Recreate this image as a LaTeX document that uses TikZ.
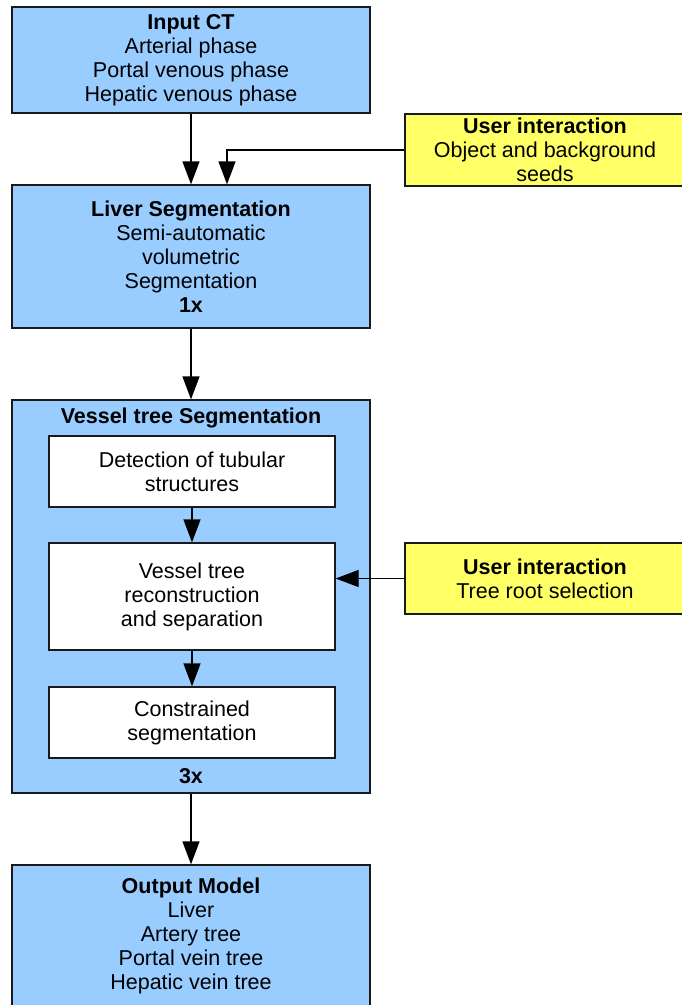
\documentclass[tikz,border=0pt]{standalone}
\usepackage{fontspec}
\setmainfont{Liberation Sans}
\usetikzlibrary{arrows.meta}
\definecolor{boxblue}{HTML}{99CCFF}
\definecolor{noteyellow}{HTML}{FFFF66}
\definecolor{edge}{HTML}{1A1A1A}

\begin{document}
\begin{tikzpicture}[x=1pt,y=-1pt,
  base/.style={draw=edge, line width=1.3pt, rectangle, inner sep=0pt,
               align=center, font=\fontsize{21.5}{24}\selectfont},
  blk/.style={base, fill=boxblue, minimum width=358pt},
  sub/.style={base, fill=white, minimum width=286pt},
  note/.style={base, fill=noteyellow, minimum width=280pt},
  label/.style={inner sep=0pt, align=center, font=\fontsize{21.5}{24}\selectfont\bfseries},
  flow/.style={draw=black, line width=1.3pt, -{Triangle[length=23pt,width=17pt]}}
]
\useasboundingbox (0,0) rectangle (681,1005);

% main processing chain
\node[blk, minimum height=106pt] (input) at (191,60)
  {\textbf{Input CT}\\Arterial phase\\Portal venous phase\\Hepatic venous phase};
\node[blk, minimum height=143pt] (liver) at (191,256.5)
  {\textbf{Liver Segmentation}\\Semi-automatic\\volumetric\\Segmentation\\\textbf{1x}};

% vessel tree stage with its inner steps
\node[blk, minimum height=393pt] (vessel) at (191,596.5) {};
\node[label] (vtitle) at (191,418) {Vessel tree Segmentation};
\node[label] (vtimes) at (191,776) {3x};
\node[sub, minimum height=71pt] (detect) at (192,471.5)
  {Detection of tubular\\structures};
\node[sub, minimum height=107pt] (recon) at (192,596.5)
  {Vessel tree\\reconstruction\\and separation};
\node[sub, minimum height=71pt] (constr) at (192,722.5)
  {Constrained\\segmentation};

\node[blk, minimum height=141pt] (output) at (191,935.5)
  {\textbf{Output Model}\\Liver\\Artery tree\\Portal vein tree\\Hepatic vein tree};

% user interaction notes
\node[note, minimum height=72pt] (seeds) at (545,150)
  {\textbf{User interaction}\\Object and background\\seeds};
\node[note, minimum height=71pt] (root) at (545,578.5)
  {\textbf{User interaction}\\Tree root selection};

% connectors
\path (liver.north) ++(36,0) coordinate (seedin);
\draw[flow] (input) -- (liver);
\draw[flow] (seeds.west) -| (seedin);
\draw[flow] (liver) -- (vessel);
\draw[flow] (detect) -- (recon);
\draw[flow] (recon) -- (constr);
\draw[flow] (root.west) -- (root.west -| recon.east);
\draw[flow] (vessel) -- (output);
\end{tikzpicture}
\end{document}
